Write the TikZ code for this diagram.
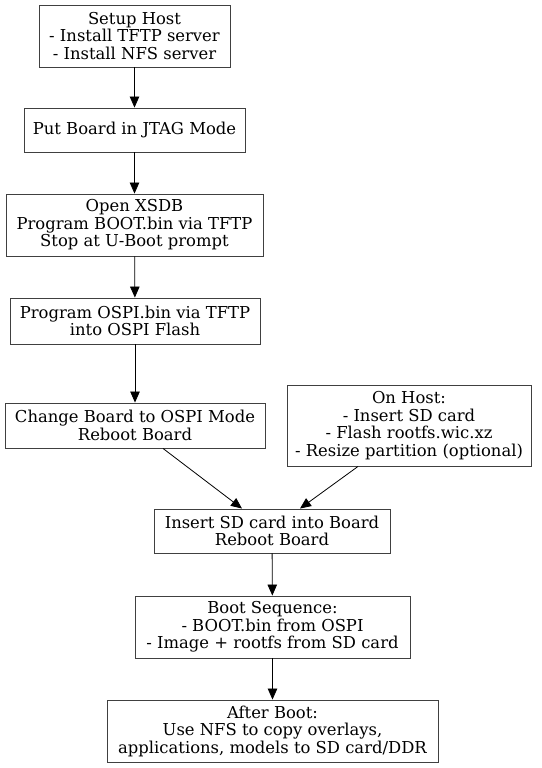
\documentclass[tikz,border=0pt]{standalone}
\usepackage{fontspec}
\setmainfont{DejaVu Serif}
\usetikzlibrary{arrows.meta}
\begin{document}
\begin{tikzpicture}[x=1pt,y=-1pt,
  box/.style={draw=black!75, line width=0.9pt, align=center, inner sep=0pt,
    font=\fontsize{16.4}{17.5}\selectfont},
  conn/.style={-{Triangle[length=11pt,width=9.5pt]}, line width=0.8pt}]
\useasboundingbox (0,0) rectangle (541,768);
\node[box, minimum width=191, minimum height=62] (setup) at (134.5,36) {Setup Host\\- Install TFTP server\\- Install NFS server};
\node[box, minimum width=221, minimum height=44] (jtag) at (134.5,130) {Put Board in JTAG Mode};
\node[box, minimum width=257, minimum height=62] (xsdb) at (134.5,225) {Open XSDB\\Program BOOT.bin via TFTP\\Stop at U-Boot prompt};
\node[box, minimum width=250, minimum height=46] (ospi) at (135,321) {Program OSPI.bin via TFTP\\into OSPI Flash};
\node[box, minimum width=260, minimum height=45] (change) at (135,425.5) {Change Board to OSPI Mode\\Reboot Board};
\node[box, minimum width=244, minimum height=81] (host) at (409,425.5) {On Host:\\- Insert SD card\\- Flash rootfs.wic.xz\\- Resize partition (optional)};
\node[box, minimum width=236, minimum height=44] (sd) at (272,531) {Insert SD card into Board\\Reboot Board};
\node[box, minimum width=275, minimum height=62] (bootseq) at (272.5,627) {Boot Sequence:\\- BOOT.bin from OSPI\\- Image + rootfs from SD card};
\node[box, minimum width=331, minimum height=62] (after) at (272.5,731) {After Boot:\\Use NFS to copy overlays,\\applications, models to SD card/DDR};
\draw[conn] (setup) -- (jtag);
\draw[conn] (jtag) -- (xsdb);
\draw[conn] (xsdb) -- (ospi);
\draw[conn] (ospi) -- (change);
\draw[conn] (change.south) ++(28,0) coordinate (c1) -- ([xshift=-30]sd.north);
\draw[conn] ([xshift=-51]host.south) -- ([xshift=28]sd.north);
\draw[conn] (sd) -- (bootseq);
\draw[conn] (bootseq) -- (after);
\end{tikzpicture}
\end{document}
